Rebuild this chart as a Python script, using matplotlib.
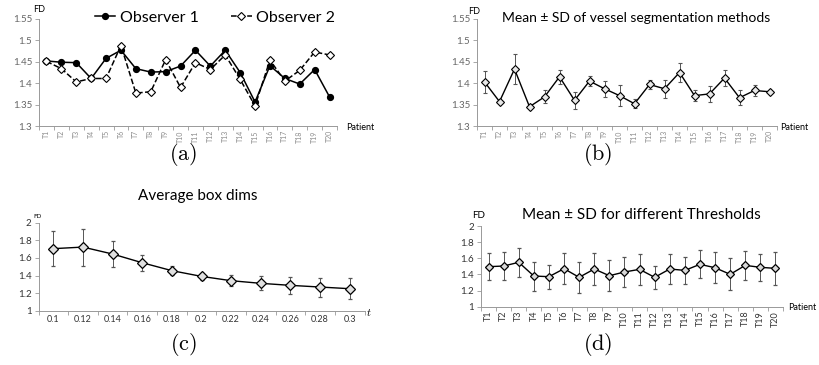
import numpy as np
import matplotlib
matplotlib.use("Agg")
import matplotlib.pyplot as plt
from matplotlib.lines import Line2D

plt.rcParams['font.family'] = ['Lato', 'DejaVu Sans']
plt.rcParams['mathtext.fontset'] = 'cm'

# ---- data ----
patients = ['T%d' % i for i in range(1, 21)]

obs1 = [1.452, 1.449, 1.448, 1.411, 1.458, 1.477, 1.434, 1.426, 1.427, 1.440,
        1.477, 1.440, 1.477, 1.425, 1.356, 1.441, 1.411, 1.398, 1.432, 1.368]
obs2 = [1.451, 1.434, 1.403, 1.411, 1.411, 1.488, 1.377, 1.380, 1.455, 1.390,
        1.448, 1.432, 1.466, 1.409, 1.347, 1.454, 1.405, 1.430, 1.473, 1.466]

seg_mean = [1.403, 1.357, 1.433, 1.345, 1.368, 1.415, 1.360, 1.405, 1.387, 1.371,
            1.352, 1.397, 1.387, 1.425, 1.371, 1.375, 1.412, 1.366, 1.383, 1.380]
seg_sd = [0.026, 0.003, 0.036, 0.003, 0.015, 0.017, 0.020, 0.012, 0.019, 0.025,
          0.010, 0.011, 0.021, 0.022, 0.012, 0.019, 0.019, 0.017, 0.012, 0.004]

t_vals = ['0.1', '0.12', '0.14', '0.16', '0.18', '0.2', '0.22', '0.24', '0.26', '0.28', '0.3']
box_mean = [1.705, 1.723, 1.644, 1.545, 1.455, 1.390, 1.341, 1.311, 1.288, 1.269, 1.250]
box_sd = [0.197, 0.21, 0.15, 0.09, 0.05, 0.04, 0.065, 0.078, 0.10, 0.108, 0.12]

thr_mean = [1.496, 1.504, 1.550, 1.380, 1.372, 1.471, 1.364, 1.467, 1.384, 1.430,
            1.463, 1.364, 1.467, 1.450, 1.525, 1.483, 1.401, 1.512, 1.488, 1.475]
thr_sd = [0.17, 0.17, 0.18, 0.18, 0.15, 0.19, 0.19, 0.20, 0.195, 0.19,
          0.19, 0.14, 0.185, 0.17, 0.175, 0.19, 0.20, 0.18, 0.17, 0.205]

W, H = 819, 365
fig = plt.figure(figsize=(W / 100, H / 100), dpi=100)


def px_axes(x0, x1, ytop, ybot):
    return fig.add_axes([x0 / W, 1 - ybot / H, (x1 - x0) / W, (ybot - ytop) / H])


def excel_style(ax, labels, ylim, yticks, ylabels, rot, xcol, ycol, xfs, yfs):
    n = len(labels)
    x = np.arange(1, n + 1)
    ax.set_xlim(0.5, n + 0.5)
    ax.set_ylim(*ylim)
    ax.set_xticks(x)
    ax.set_xticklabels(labels, rotation=rot, fontsize=xfs, color=xcol)
    ax.set_xticks(np.arange(0.5, n + 1), minor=True)
    ax.tick_params(axis='x', which='major', length=0, pad=3)
    ax.tick_params(axis='x', which='minor', length=3, color='#999999', width=0.6)
    ax.set_yticks(yticks)
    ax.set_yticklabels(ylabels, fontsize=yfs, color=ycol)
    ax.tick_params(axis='y', length=3, color='#999999', width=0.6, pad=2)
    for s in ['top', 'right']:
        ax.spines[s].set_visible(False)
    for s in ['left', 'bottom']:
        ax.spines[s].set_color('#999999')
        ax.spines[s].set_linewidth(0.7)
    ax.patch.set_alpha(0)
    return x


# ---- (a) ----
ax = px_axes(39, 337, 19, 126)
x = excel_style(ax, patients, (1.3, 1.55), [1.3, 1.35, 1.4, 1.45, 1.5, 1.55],
                ['1.3', '1.35', '1.4', '1.45', '1.5', '1.55'], 90, '#8a8a8a', '#666666', 5, 7)
ax.plot(x, obs1, '-', color='black', lw=1.1, marker='o', ms=4.2, mfc='black', mec='black')
ax.plot(x, obs2, '--', color='black', lw=1.1, marker='D', ms=4.2, mfc='white', mec='black', mew=0.8)
h1 = Line2D([], [], color='black', lw=1.1, marker='o', ms=4.2)
h2 = Line2D([], [], color='black', lw=1.1, ls='--', marker='D', ms=4.2, mfc='white', mew=0.8)
fig.legend([h1, h2], ['Observer 1', 'Observer 2'], loc='center', bbox_to_anchor=(215 / W, 1 - 18 / H),
           ncol=2, frameon=False, fontsize=11.5, handlelength=1.3, handletextpad=0.3, columnspacing=2.0)
fig.text(33 / W, 1 - 10 / H, 'FD', fontsize=6.5, va='center')
fig.text(346 / W, 1 - 127 / H, 'Patient', fontsize=6.5, va='center')

# ---- (b) ----
ax = px_axes(477, 777, 19, 126)
x = excel_style(ax, patients, (1.3, 1.55), [1.3, 1.35, 1.4, 1.45, 1.5, 1.55],
                ['1.3', '1.35', '1.4', '1.45', '1.5', '1.55'], 90, '#8a8a8a', '#666666', 5, 7)
ax.errorbar(x, seg_mean, yerr=seg_sd, fmt='-', color='black', lw=1.0, ecolor='#555555',
            elinewidth=0.7, capsize=1.5, capthick=0.7, marker='D', ms=4.5, mfc='#e8e8e8',
            mec='black', mew=0.8)
fig.text(636 / W, 1 - 18 / H, 'Mean \u00b1 SD of vessel segmentation methods', fontsize=10, ha='center', va='center')
fig.text(468 / W, 1 - 11 / H, 'FD', fontsize=6.5, va='center')
fig.text(780 / W, 1 - 127 / H, 'Patient', fontsize=6.5, va='center')

# ---- (c) ----
ax = px_axes(38.5, 364.5, 222.7, 310.7)
x = excel_style(ax, t_vals, (1, 2), [1, 1.2, 1.4, 1.6, 1.8, 2],
                ['1', '1.2', '1.4', '1.6', '1.8', '2'], 0, '#333333', '#333333', 6.5, 7)
ax.errorbar(x, box_mean, yerr=box_sd, fmt='-', color='black', lw=1.0, ecolor='#555555',
            elinewidth=0.7, capsize=1.5, capthick=0.7, marker='D', ms=4.8, mfc='#e0e0e0',
            mec='black', mew=0.9)
fig.text(198 / W, 1 - 196 / H, 'Average box dims', fontsize=11, ha='center', va='center')
fig.text(33 / W, 1 - 216 / H, 'FD', fontsize=4.5, va='center')
fig.text(366 / W, 1 - 313 / H, '$t$', fontsize=8, va='center')

# ---- (d) ----
ax = px_axes(481, 783, 226, 306.7)
x = excel_style(ax, patients, (1, 2), [1, 1.2, 1.4, 1.6, 1.8, 2],
                ['1', '1.2', '1.4', '1.6', '1.8', '2'], 90, '#333333', '#333333', 6.5, 7)
ax.errorbar(x, thr_mean, yerr=thr_sd, fmt='-', color='black', lw=1.0, ecolor='#555555',
            elinewidth=0.7, capsize=1.5, capthick=0.7, marker='D', ms=4.2, mfc='#d8d8d8',
            mec='black', mew=0.9)
fig.text(641 / W, 1 - 215 / H, 'Mean \u00b1 SD for different Thresholds', fontsize=11, ha='center', va='center')
fig.text(472 / W, 1 - 215 / H, 'FD', fontsize=7, va='center')
fig.text(788 / W, 1 - 308 / H, 'Patient', fontsize=6.5, va='center')

# ---- captions ----
for lab, cx, cy in [('a', 183, 155), ('b', 598, 155), ('c', 183, 345), ('d', 598, 345)]:
    fig.text(cx / W, 1 - cy / H, r'$\mathrm{(%s)}$' % lab, fontsize=16, ha='center', va='center')

fig.savefig('out.png', dpi=100)
